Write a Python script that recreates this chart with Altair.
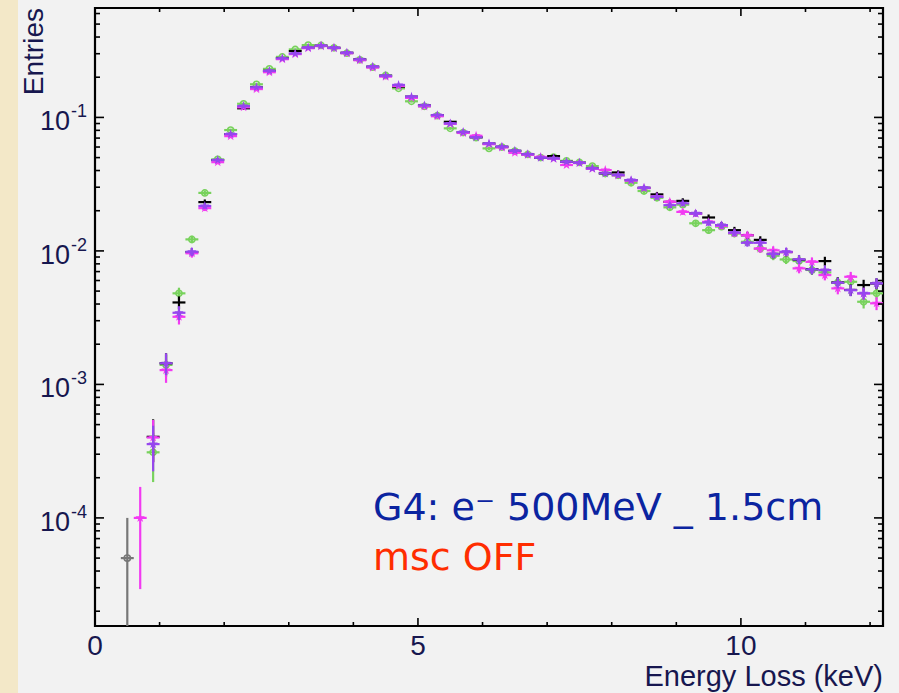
import math
import altair as alt
import pandas as pd

# ---------------- data ----------------
bin_centers = [0.5, 0.7, 0.9, 1.1, 1.3, 1.5, 1.7, 1.9, 2.1, 2.3, 2.5, 2.7, 2.9, 3.1, 3.3,
               3.5, 3.7, 3.9, 4.1, 4.3, 4.5, 4.7, 4.9, 5.1, 5.3, 5.5, 5.7, 5.9, 6.1, 6.3,
               6.5, 6.7, 6.9, 7.1, 7.3, 7.5, 7.7, 7.9, 8.1, 8.3, 8.5, 8.7, 8.9, 9.1, 9.3,
               9.5, 9.7, 9.9, 10.1, 10.3, 10.5, 10.7, 10.9, 11.1, 11.3, 11.5, 11.7, 11.9, 12.1]

grey_vals = [5.0e-5] + [None] * 58

green_vals = [None, None, 3.10e-4, 1.40e-3, 4.81e-3, 0.0122, 0.0272, 0.0485, 0.0804, 0.1265,
              0.177, 0.231, 0.284, 0.323, 0.348, 0.346, 0.332, 0.303, 0.270, 0.238, 0.206,
              0.165, 0.132, 0.121, 0.103, 0.0828, 0.0770, 0.0705, 0.0586, 0.0600, 0.0560,
              0.0528, 0.0500, 0.0505, 0.0473, 0.0460, 0.0432, 0.0380, 0.0368, 0.0324, 0.0281,
              0.0250, 0.0212, 0.0222, 0.0161, 0.0143, 0.0152, 0.0135, 0.0117, 0.0104, 0.0092,
              8.63e-3, 8.4e-3, 7.2e-3, 6.9e-3, 5.8e-3, 5.87e-3, 4.16e-3, 4.81e-3]

black_vals = [None, None, 4.05e-4, 1.44e-3, 4.11e-3, 9.8e-3, 0.0232, 0.0479, 0.0750, 0.117,
              0.168, 0.223, 0.277, 0.314, 0.333, 0.344, 0.332, 0.305, 0.272, 0.240, 0.205,
              0.170, 0.143, 0.123, 0.104, 0.0927, 0.0776, 0.0712, 0.0637, 0.0603, 0.0562,
              0.0530, 0.0498, 0.0513, 0.0465, 0.0457, 0.0415, 0.0381, 0.0387, 0.0339, 0.0297,
              0.0265, 0.0233, 0.0237, 0.0191, 0.0178, 0.0156, 0.0143, 0.0131, 0.0121, 0.0095,
              0.0098, 0.0086, 7.3e-3, 8.39e-3, 5.8e-3, 5.1e-3, 5.55e-3, 5.7e-3]

magenta_vals = [None, 1.0e-4, 4.0e-4, 1.28e-3, 3.21e-3, 9.6e-3, 0.0209, 0.0462, 0.0724, 0.119,
                0.163, 0.218, 0.273, 0.298, 0.330, 0.342, 0.330, 0.302, 0.268, 0.236, 0.202,
                0.172, 0.140, 0.121, 0.102, 0.0895, 0.0765, 0.0728, 0.0630, 0.0595, 0.0543,
                0.0525, 0.0505, 0.0490, 0.0440, 0.0455, 0.0412, 0.0403, 0.0368, 0.0336, 0.0295,
                0.0255, 0.0233, 0.0196, 0.0190, 0.0165, 0.0154, 0.0136, 0.0131, 0.0104, 0.0101,
                9.8e-3, 7.40e-3, 8.28e-3, 6.59e-3, 5.24e-3, 6.40e-3, 4.8e-3, 4.05e-3]

purple_vals = [None, None, 3.57e-4, 1.44e-3, 3.44e-3, 9.85e-3, 0.0217, 0.0479, 0.0750, 0.1216,
               0.168, 0.223, 0.277, 0.301, 0.333, 0.344, 0.332, 0.305, 0.272, 0.240, 0.205,
               0.175, 0.143, 0.123, 0.104, 0.0901, 0.0776, 0.0708, 0.0637, 0.0603, 0.0562,
               0.0530, 0.0498, 0.0493, 0.0465, 0.0457, 0.0415, 0.0381, 0.0370, 0.0339, 0.0297,
               0.0254, 0.0220, 0.0227, 0.0191, 0.0163, 0.0156, 0.0137, 0.0115, 0.0115, 9.46e-3,
               9.85e-3, 8.63e-3, 7.26e-3, 7.18e-3, 5.77e-3, 5.08e-3, 4.81e-3, 5.71e-3]

ENTRY_WEIGHT = 5e-5      # normalisation: 1 / entries per histogram (Poisson errors)
BIN_HALF = 0.1           # half bin width, keV

x_major = [0, 5, 10]
x_minor = [1, 2, 3, 4, 6, 7, 8, 9, 11, 12]
y_major = [1e-4, 1e-3, 1e-2, 1e-1]
y_major_exp = ["-4", "-3", "-2", "-1"]
y_minor = [2e-5, 3e-5, 4e-5, 5e-5, 6e-5, 7e-5, 8e-5, 9e-5,
           2e-4, 3e-4, 4e-4, 5e-4, 6e-4, 7e-4, 8e-4, 9e-4,
           2e-3, 3e-3, 4e-3, 5e-3, 6e-3, 7e-3, 8e-3, 9e-3,
           2e-2, 3e-2, 4e-2, 5e-2, 6e-2, 7e-2, 8e-2, 9e-2,
           0.2, 0.3, 0.4, 0.5, 0.6]

# ---------------- layout / style ----------------
W, H = 788, 618
XDOM = [0.0, 12.2]
YDOM = [1.55e-5, 0.66]
FONT = "Liberation Sans"
LABEL_COLOR = "#17174f"
BG = "#f2f2f2"

xs = alt.Scale(domain=XDOM, nice=False, zero=False)
ys = alt.Scale(type="log", domain=YDOM, nice=False)

STAR = ("M0,-1L0.2245,-0.309L0.951,-0.309L0.363,0.118L0.588,0.809L0,0.382"
        "L-0.588,0.809L-0.363,0.118L-0.951,-0.309L-0.2245,-0.309Z")

series = [
    ("grey", grey_vals, "#777777", "circle", False, 40),
    ("green", green_vals, "#78d25c", "circle", False, 38),
    ("black", black_vals, "#000000", None, True, 0),
    ("magenta", magenta_vals, "#f23af2", STAR, True, 100),
    ("purple", purple_vals, "#9646ee", STAR, True, 100),
]


def series_frame(vals):
    rows = []
    for x, v in zip(bin_centers, vals):
        if v is None:
            continue
        err = math.sqrt(v * ENTRY_WEIGHT)
        rows.append(dict(x=x, xlo=x - BIN_HALF, xhi=x + BIN_HALF, y=v,
                         ylo=max(v - err, YDOM[0]), yhi=v + err))
    return pd.DataFrame(rows)


layers = []

# left beige strip of the slide background
strip = alt.Chart(pd.DataFrame({"a": [0]})).mark_rect(color="#f3e8c8").encode(
    x=alt.value(-95), x2=alt.value(-77), y=alt.value(-8), y2=alt.value(H + 67))
layers.append(strip)

for name, vals, color, shape, filled, size in series:
    d = series_frame(vals)
    base = alt.Chart(d)
    layers.append(base.mark_rule(color=color, strokeWidth=2.2, clip=True).encode(
        x=alt.X("x:Q", scale=xs, axis=None), y=alt.Y("ylo:Q", scale=ys, axis=None), y2="yhi:Q"))
    layers.append(base.mark_rule(color=color, strokeWidth=2.2, clip=True).encode(
        x=alt.X("xlo:Q", scale=xs, axis=None), x2="xhi:Q", y=alt.Y("y:Q", scale=ys, axis=None)))
    if shape is not None:
        layers.append(base.mark_point(shape=shape, filled=filled, size=size, color=color,
                                      opacity=1, strokeWidth=1.6, clip=True).encode(
            x=alt.X("x:Q", scale=xs, axis=None), y=alt.Y("y:Q", scale=ys, axis=None)))

# ---------------- ticks (inside the frame, on all four sides) ----------------
def yticks(vals, length):
    d = alt.Chart(pd.DataFrame({"v": vals}))
    left = d.mark_rule(color="black", strokeWidth=1.6).encode(
        y=alt.Y("v:Q", scale=ys, axis=None), x=alt.value(0), x2=alt.value(length))
    right = d.mark_rule(color="black", strokeWidth=1.6).encode(
        y=alt.Y("v:Q", scale=ys, axis=None), x=alt.value(W - length), x2=alt.value(W))
    return [left, right]


def xticks(vals, length):
    d = alt.Chart(pd.DataFrame({"v": vals}))
    bottom = d.mark_rule(color="black", strokeWidth=1.6).encode(
        x=alt.X("v:Q", scale=xs, axis=None), y=alt.value(H - length), y2=alt.value(H))
    top = d.mark_rule(color="black", strokeWidth=1.6).encode(
        x=alt.X("v:Q", scale=xs, axis=None), y=alt.value(0), y2=alt.value(length))
    return [bottom, top]


layers += yticks(y_major, 9) + yticks(y_minor, 5) + xticks(x_major, 8) + xticks(x_minor, 4)

# ---------------- axis labels ----------------
ylab = alt.Chart(pd.DataFrame({"v": y_major, "e": y_major_exp}))
layers.append(ylab.mark_text(text="10", font=FONT, fontSize=27, color=LABEL_COLOR,
                             align="right", baseline="middle", dy=5).encode(
    y=alt.Y("v:Q", scale=ys, axis=None), x=alt.value(-25)))
layers.append(ylab.mark_text(font=FONT, fontSize=18, color=LABEL_COLOR,
                             align="left", baseline="middle", dy=-5).encode(
    y=alt.Y("v:Q", scale=ys, axis=None), x=alt.value(-24), text="e:N"))

xlab = alt.Chart(pd.DataFrame({"v": x_major, "t": [str(v) for v in x_major]}))
layers.append(xlab.mark_text(font=FONT, fontSize=28, color=LABEL_COLOR,
                             align="center", baseline="alphabetic").encode(
    x=alt.X("v:Q", scale=xs, axis=None), y=alt.value(H + 29), text="t:N"))

titles = pd.DataFrame({"t": ["Energy Loss (keV)"]})
layers.append(alt.Chart(titles).mark_text(font=FONT, fontSize=29, color=LABEL_COLOR,
                                          align="right", baseline="alphabetic").encode(
    x=alt.value(W), y=alt.value(678), text="t:N"))
layers.append(alt.Chart(pd.DataFrame({"t": ["Entries"]})).mark_text(
    font=FONT, fontSize=28, color=LABEL_COLOR, angle=270,
    align="right", baseline="alphabetic").encode(
    x=alt.value(-52), y=alt.value(0), text="t:N"))

# ---------------- annotation ----------------
layers.append(alt.Chart(pd.DataFrame({"t": ["G4: e\u207b 500MeV _ 1.5cm"]})).mark_text(
    font="DejaVu Sans", fontSize=38, color="#0b24a0", align="left", baseline="alphabetic").encode(
    x=alt.value(278), y=alt.value(512), text="t:N"))
layers.append(alt.Chart(pd.DataFrame({"t": ["msc OFF"]})).mark_text(
    font="DejaVu Sans", fontSize=38, color="#ff2d00", align="left", baseline="alphabetic").encode(
    x=alt.value(278), y=alt.value(562), text="t:N"))

chart = alt.layer(*layers).properties(
    width=W, height=H,
    padding={"left": 95, "top": 8, "right": 16, "bottom": 67},
    autosize=alt.AutoSizeParams(type="none"),
    background=BG,
).configure_view(stroke="black", strokeWidth=2.2, fill=BG)

chart.save("out.html", embed_options={"renderer": "svg", "actions": False})
